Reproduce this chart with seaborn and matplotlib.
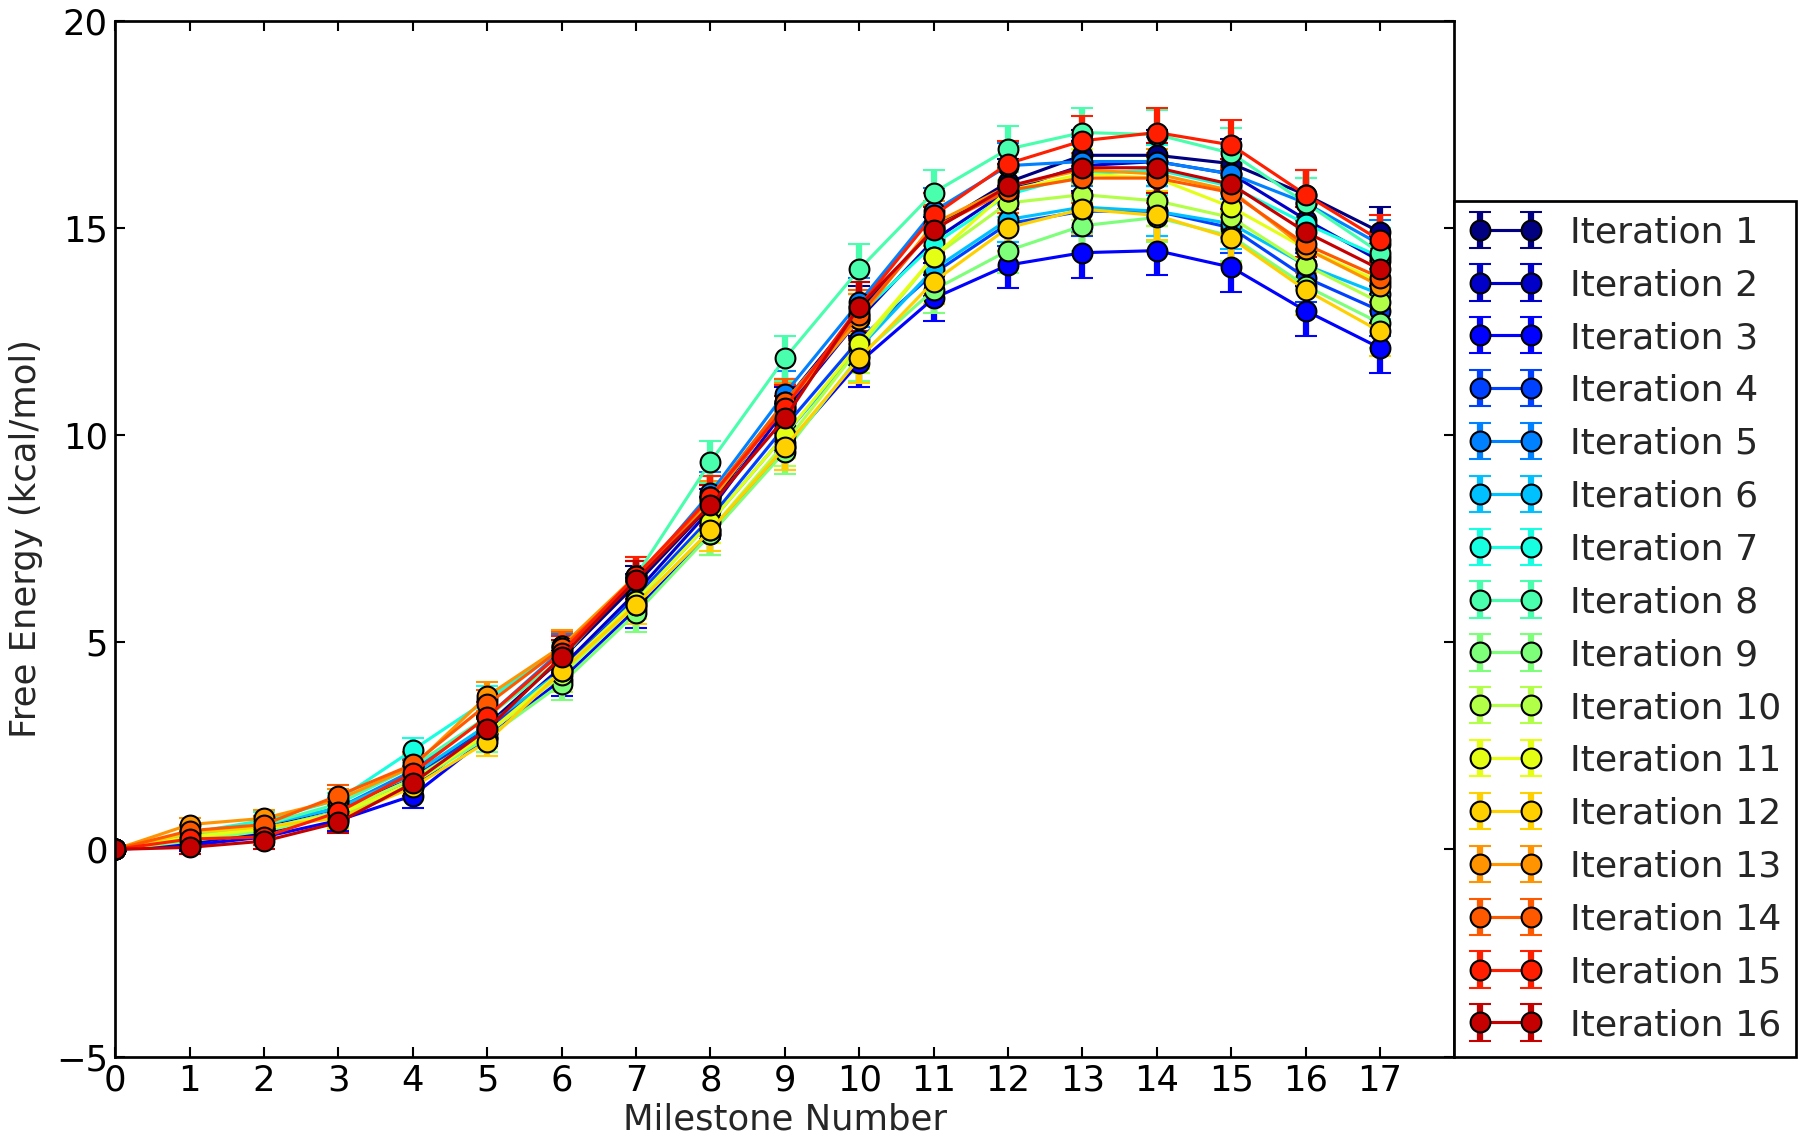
import numpy as np
import pandas as pd
import seaborn as sns
import matplotlib
matplotlib.use('Agg')
import matplotlib.pyplot as plt

# Milestone positions and the error on each milestone
milestones = list(range(18))
errors = [0.0, 0.15, 0.2, 0.25, 0.3, 0.35, 0.4, 0.45, 0.5, 0.55, 0.6, 0.55, 0.55, 0.6, 0.6, 0.6, 0.6, 0.6]

# Free energy (kcal/mol) per iteration
iter_01 = [0, 0.20, 0.55, 1.00, 1.70, 3.00, 4.60, 6.40, 8.30, 10.80, 13.00, 15.00, 16.10, 16.75, 16.75, 16.55, 15.80, 14.90]
iter_02 = [0, 0.15, 0.40, 0.85, 1.50, 2.85, 4.40, 6.20, 8.20, 10.60, 12.80, 14.70, 15.90, 16.50, 16.60, 16.30, 15.20, 14.20]
iter_03 = [0, 0.10, 0.30, 0.70, 1.30, 2.70, 4.10, 5.80, 7.60, 9.70, 11.75, 13.30, 14.10, 14.40, 14.45, 14.05, 13.00, 12.10]
iter_04 = [0, 0.25, 0.50, 0.90, 1.70, 2.90, 4.30, 6.10, 8.00, 10.20, 12.30, 13.90, 15.10, 15.40, 15.40, 15.00, 13.80, 13.00]
iter_05 = [0, 0.30, 0.60, 1.00, 1.90, 3.20, 4.80, 6.50, 8.60, 11.00, 13.20, 15.40, 16.50, 16.60, 16.60, 16.30, 15.60, 14.60]
iter_06 = [0, 0.35, 0.60, 1.00, 1.80, 3.00, 4.30, 6.00, 7.90, 10.00, 12.10, 14.00, 15.20, 15.50, 15.40, 15.10, 14.10, 13.40]
iter_07 = [0, 0.40, 0.70, 1.20, 2.40, 3.60, 4.90, 6.50, 8.50, 10.80, 12.90, 14.60, 15.80, 16.30, 16.40, 16.00, 15.10, 14.30]
iter_08 = [0, 0.30, 0.60, 1.10, 2.00, 3.20, 4.60, 6.60, 9.35, 11.85, 14.00, 15.85, 16.90, 17.30, 17.25, 16.80, 15.60, 14.40]
iter_09 = [0, 0.20, 0.45, 0.80, 1.60, 2.70, 4.00, 5.70, 7.60, 9.60, 11.90, 13.50, 14.45, 15.05, 15.25, 14.80, 13.60, 12.70]
iter_10 = [0, 0.25, 0.50, 0.90, 1.70, 2.80, 4.20, 5.90, 7.70, 9.80, 12.10, 14.30, 15.60, 15.80, 15.65, 15.25, 14.10, 13.20]
iter_11 = [0, 0.30, 0.50, 0.85, 1.60, 2.80, 4.30, 6.00, 7.90, 10.00, 12.20, 14.30, 15.90, 16.30, 16.20, 15.50, 14.50, 13.70]
iter_12 = [0, 0.40, 0.55, 0.75, 1.50, 2.60, 4.30, 5.90, 7.70, 9.70, 11.85, 13.70, 15.00, 15.45, 15.30, 14.75, 13.50, 12.50]
iter_13 = [0, 0.60, 0.75, 1.20, 2.00, 3.70, 4.90, 6.60, 8.40, 10.70, 12.80, 15.10, 16.00, 16.40, 16.30, 15.90, 14.50, 13.60]
iter_14 = [0, 0.45, 0.60, 1.30, 2.05, 3.50, 4.85, 6.50, 8.50, 10.80, 12.90, 15.00, 15.90, 16.20, 16.20, 15.85, 14.60, 13.80]
iter_15 = [0, 0.25, 0.30, 0.90, 1.85, 3.20, 4.75, 6.60, 8.50, 10.65, 13.10, 15.30, 16.55, 17.10, 17.30, 17.00, 15.80, 14.70]
iter_16 = [0, 0.05, 0.20, 0.65, 1.60, 2.90, 4.65, 6.50, 8.30, 10.40, 13.10, 14.95, 16.00, 16.45, 16.45, 16.05, 14.90, 14.00]

iterations = [iter_01, iter_02, iter_03, iter_04, iter_05, iter_06, iter_07, iter_08,
              iter_09, iter_10, iter_11, iter_12, iter_13, iter_14, iter_15, iter_16]
labels = ['Iteration %d' % (i + 1) for i in range(len(iterations))]

sns.set_style('ticks')
plt.rcParams['font.family'] = ['DejaVu Sans']
plt.rcParams['xtick.direction'] = 'in'
plt.rcParams['ytick.direction'] = 'in'
plt.rcParams['xtick.top'] = True
plt.rcParams['ytick.right'] = True

jet = plt.get_cmap('jet')
colors = [jet(i / 16.0) for i in range(len(iterations))]

fig = plt.figure(figsize=(12, 7.64), dpi=150)
ax = fig.add_axes([0.064, 0.078, 0.744, 0.904])

for vals, lab, col in zip(iterations, labels, colors):
    ax.errorbar(milestones, vals, yerr=errors, fmt='-o', color=col, mfc=col, mec='black',
                mew=1.0, ms=9.5, lw=1.5, elinewidth=3, capsize=5.5, capthick=1.5, label=lab)

ax.set_xlim(0, 18)
ax.set_ylim(-5, 20)
ax.set_xticks(milestones)
ax.set_yticks([-5, 0, 5, 10, 15, 20])
ax.tick_params(labelsize=17, length=5, width=1, colors='black')
ax.set_xlabel('Milestone Number', fontsize=17, labelpad=2)
ax.set_ylabel('Free Energy (kcal/mol)', fontsize=17, labelpad=6)
for sp in ax.spines.values():
    sp.set_linewidth(1.3)
    sp.set_color('black')

leg = ax.legend(loc='lower left', bbox_to_anchor=(1.0, 0.0), borderaxespad=0, fontsize=17.4,
                numpoints=2, handlelength=2.0, labelspacing=0.52, fancybox=False,
                frameon=True, edgecolor='black', framealpha=1)
leg.get_frame().set_linewidth(1.3)

fig.savefig('out.png', dpi=150)
